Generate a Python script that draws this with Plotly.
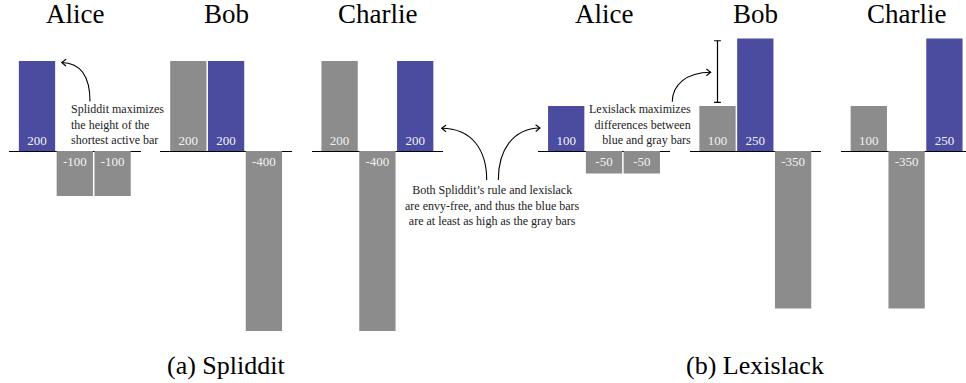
import plotly.graph_objects as go
import math

# ---------------- data ----------------
agents = ["Alice", "Bob", "Charlie"]
bundle_slots = [0, 1, 2]
spliddit_alice = [200, -100, -100]
spliddit_bob = [200, 200, -400]
spliddit_charlie = [200, -400, 200]
lexislack_alice = [100, -50, -50]
lexislack_bob = [100, 250, -350]
lexislack_charlie = [100, -350, 250]
panel_labels = ["(a) Spliddit", "(b) Lexislack"]
note_spliddit = ["Spliddit maximizes", "the height of the", "shortest active bar"]
note_both = ["Both Spliddit\u2019s rule and lexislack",
             "are envy-free, and thus the blue bars",
             "are at least as high as the gray bars"]
note_lexislack = ["Lexislack maximizes", "differences between", "blue and gray bars"]
gap_interval = [108, 245]   # interval drawn next to Lexislack/Bob

panels = [
    [spliddit_alice, spliddit_bob, spliddit_charlie],
    [lexislack_alice, lexislack_bob, lexislack_charlie],
]

# ---------------- styling ----------------
W, H = 966, 383
BLUE = "#4b4ba0"
GRAY = "#8c8c8c"
FONT = "'Liberation Serif', 'Times New Roman', Times, serif"
SLOT = 37.8             # px per bar slot
PXU = 0.45              # px per value unit
BASE_Y = 151            # baseline pixel
mids = [[74.8, 226.1, 377.4], [604.0, 755.3, 906.6]]

def px(x):
    return x / W

def py(y):
    return 1 - y / H

fig = go.Figure()
layout = dict(
    width=W, height=H, margin=dict(l=0, r=0, t=0, b=0),
    plot_bgcolor="white", paper_bgcolor="white", showlegend=False,
    font=dict(family=FONT, color="black"),
)
annotations = []
shapes = []

yr = [-(H - BASE_Y) / PXU, BASE_Y / PXU]
k = 0
for p, mech in enumerate(panels):
    for a, vals in enumerate(mech):
        k += 1
        sfx = "" if k == 1 else str(k)
        mid = mids[p][a]
        left = mid - 1.74 * SLOT
        right = mid + 1.74 * SLOT
        r0, r1 = -0.74, 2.74
        if right > W:
            r1 = 2.74 - (right - W) / SLOT
            right = W
        layout["xaxis" + sfx] = dict(domain=[px(left), px(right)], range=[r0, r1],
                                     visible=False, anchor="y" + sfx, fixedrange=True)
        layout["yaxis" + sfx] = dict(domain=[0, 1], range=yr, showgrid=False,
                                     showticklabels=False, ticks="", showline=False,
                                     zeroline=True, zerolinecolor="black", zerolinewidth=1,
                                     anchor="x" + sfx, fixedrange=True)
        colors = [BLUE if j == a else GRAY for j in bundle_slots]
        fig.add_trace(go.Bar(
            x=bundle_slots, y=vals, width=0.96,
            marker=dict(color=colors, line=dict(width=0)),
            text=[str(v) for v in vals], textposition="inside",
            insidetextanchor="start", textangle=0,
            textfont=dict(family=FONT, size=13, color="#f2f2f2"),
            xaxis="x" + sfx, yaxis="y" + sfx, hoverinfo="skip",
        ))
        annotations.append(dict(text=agents[a], x=px(mid), y=py(14), xref="paper", yref="paper",
                                xanchor="center", yanchor="middle", showarrow=False,
                                font=dict(size=27, family=FONT, color="black")))
    annotations.append(dict(text=panel_labels[p], x=px(mids[p][1]), y=py(365), xref="paper",
                            yref="paper", xanchor="center", yanchor="middle", showarrow=False,
                            font=dict(size=26, family=FONT, color="black")))

# notes (one block each)
def note(lines, x, ymid, anchor):
    annotations.append(dict(text="<br>".join(lines), x=px(x), y=py(ymid), xref="paper",
                            yref="paper", xanchor=anchor, yanchor="middle", align=anchor,
                            showarrow=False, borderpad=0,
                            font=dict(size=12, family=FONT, color="#222222")))

note(note_spliddit, 70, 124, "left")
note(note_both, 492.7, 205.5, "center")
note(note_lexislack, 692.3, 124, "right")

# curved arrows (pixel geometry converted to paper)
def arrow(p0, c1, c2, tip):
    path = "M %f,%f C %f,%f %f,%f %f,%f" % (px(p0[0]), py(p0[1]), px(c1[0]), py(c1[1]),
                                            px(c2[0]), py(c2[1]), px(tip[0]), py(tip[1]))
    shapes.append(dict(type="path", path=path, xref="paper", yref="paper",
                       line=dict(color="black", width=1.1)))
    dx, dy = tip[0] - c2[0], tip[1] - c2[1]
    n = math.hypot(dx, dy)
    dx, dy = dx / n, dy / n
    L, ang = 5.5, math.radians(38)
    pts = []
    for s in (1, -1):
        ca, sa = math.cos(s * ang), math.sin(s * ang)
        bx = -(dx * ca - dy * sa)
        by = -(dx * sa + dy * ca)
        pts.append((tip[0] + L * bx, tip[1] + L * by))
    head = "M %f,%f L %f,%f L %f,%f" % (px(pts[0][0]), py(pts[0][1]), px(tip[0]), py(tip[1]),
                                        px(pts[1][0]), py(pts[1][1]))
    shapes.append(dict(type="path", path=head, xref="paper", yref="paper",
                       line=dict(color="black", width=1.1)))

arrow((90, 101.5), (90, 78), (82, 63), (61.7, 62.5))
arrow((486.7, 180), (486.7, 150), (472, 128.5), (441.7, 128.3))
arrow((498.3, 180), (498.3, 150), (513, 128.5), (540, 128.0))
arrow((672.3, 101.7), (672.3, 85), (686, 72.5), (710.7, 72.3))

# interval marker (Lexislack / Bob, slot 0)
cap = 0.09
shapes.append(dict(type="line", xref="x5", yref="y5", x0=0, x1=0,
                   y0=gap_interval[0], y1=gap_interval[1], line=dict(color="black", width=1.2)))
for yv in gap_interval:
    shapes.append(dict(type="line", xref="x5", yref="y5", x0=-cap, x1=cap,
                       y0=yv, y1=yv, line=dict(color="black", width=1.2)))

layout["annotations"] = annotations
layout["shapes"] = shapes
fig.update_layout(**layout)
fig.write_html("out.html")
